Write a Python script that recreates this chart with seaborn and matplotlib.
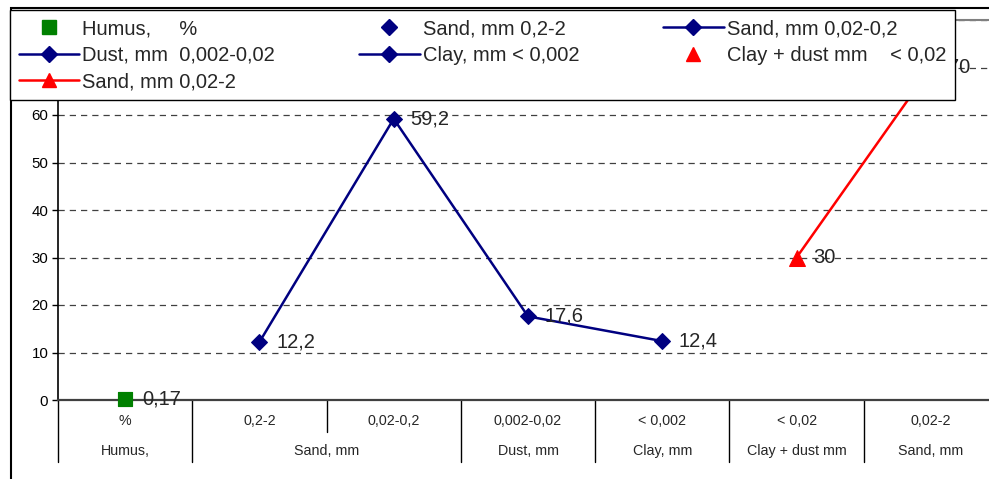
import matplotlib
matplotlib.use("Agg")
import matplotlib.pyplot as plt
import matplotlib.transforms as mtransforms
from matplotlib.lines import Line2D
from matplotlib.patches import Rectangle
import seaborn as sns
import numpy as np

# categories (inner level) and their group (outer level)
categories = ["%", "0,2-2", "0,02-0,2", "0,002-0,02", "< 0,002", "< 0,02", "0,02-2"]
groups = ["Humus,", "Sand, mm", "Sand, mm", "Dust, mm", "Clay, mm", "Clay + dust mm", "Sand, mm"]
values = [0.17, 12.2, 59.2, 17.6, 12.4, 30, 70]

# which categories belong to which drawn series
humus_idx = [0]
fraction_idx = [1, 2, 3, 4]
combined_idx = [5, 6]

legend_labels = [
    "Humus,     %", "Sand, mm 0,2-2", "Sand, mm 0,02-0,2",
    "Dust, mm  0,002-0,02", "Clay, mm < 0,002", "Clay + dust mm    < 0,02",
    "Sand, mm 0,02-2",
]

NAVY = "#000080"
GREEN = "#008000"
RED = "#FF0000"

sns.set_style("white")
plt.rcParams["font.family"] = ["Liberation Sans", "DejaVu Sans"]

W, H = 989, 479
fig = plt.figure(figsize=(W / 100, H / 100), dpi=100)
ax = fig.add_axes([58 / W, 1 - 400 / H, 940 / W, 380 / H])

x = np.arange(len(categories))
vals = np.array(values)

sns.lineplot(x=x[fraction_idx], y=vals[fraction_idx], color=NAVY, lw=1.8,
             marker="D", markersize=8.5, markeredgecolor=NAVY, sort=False, ax=ax)
sns.lineplot(x=x[combined_idx], y=vals[combined_idx], color=RED, lw=1.8,
             marker="^", markersize=11, markeredgecolor=RED, sort=False, ax=ax)
sns.scatterplot(x=x[humus_idx], y=vals[humus_idx], color=GREEN, marker="s",
                s=110, edgecolor=GREEN, ax=ax, zorder=5, clip_on=False)

# data labels
for xi, v in zip(x, values):
    txt = f"{v:g}".replace(".", ",")
    ax.annotate(txt, (xi, v), xytext=(12, 0), textcoords="offset points",
                ha="left", va="center", fontsize=14.5, annotation_clip=False)

ax.set_xlim(-0.5, len(categories) - 0.5)
ax.set_ylim(0, 80)
ax.set_yticks(range(0, 81, 10))
ax.set_xticks([])
ax.set_axisbelow(True)
ax.yaxis.grid(True, linestyle=(0, (5, 4)), color="#404040", lw=0.9)
ax.tick_params(axis="y", direction="out", length=4, width=1, labelsize=10.8,
               pad=3, left=True, colors="black")

ax.spines["top"].set_color("#808080")
ax.spines["top"].set_linewidth(1.5)
ax.spines["left"].set_color("black")
ax.spines["left"].set_linewidth(1.2)
ax.spines["bottom"].set_color("#404040")
ax.spines["bottom"].set_linewidth(1.6)
ax.spines["right"].set_visible(False)

# two-level category axis
trans = mtransforms.blended_transform_factory(ax.transData, ax.transAxes)
short = 32 / 380
long = 62 / 380
for i in range(len(categories) + 1):
    b = i - 0.5
    if i == 0 or i == len(categories) or groups[i] != groups[i - 1]:
        d = long
    else:
        d = short
    ax.add_line(Line2D([b, b], [0, -d], transform=trans, color="black",
                       lw=1.0, clip_on=False))

for xi, c in zip(x, categories):
    ax.text(xi, -21 / 380, c, transform=trans, ha="center", va="center",
            fontsize=10.3)

start = 0
for i in range(1, len(groups) + 1):
    if i == len(groups) or groups[i] != groups[start]:
        ax.text((start + i - 1) / 2, -51 / 380, groups[start], transform=trans,
                ha="center", va="center", fontsize=10.3)
        start = i

# chart area border
fig.add_artist(Rectangle((11 / W, -0.1), 1.2, (1 - 8 / H) + 0.1,
                         transform=fig.transFigure, fill=False,
                         ec="black", lw=1.5))

# legend, row-major order as in the original
h_humus = Line2D([], [], ls="none", marker="s", color=GREEN, markersize=10)
h_sand1 = Line2D([], [], ls="none", marker="D", color=NAVY, markersize=8)
h_navy = Line2D([], [], ls="-", lw=1.8, marker="D", color=NAVY, markersize=8)
h_cd = Line2D([], [], ls="none", marker="^", color=RED, markersize=10)
h_red = Line2D([], [], ls="-", lw=1.8, marker="^", color=RED, markersize=10)
handles = [h_humus, h_sand1, h_navy, h_navy, h_navy, h_cd, h_red]
order = [0, 3, 6, 1, 4, 2, 5]
leg = fig.legend([handles[i] for i in order], [legend_labels[i] for i in order],
                 loc="upper left",
                 bbox_to_anchor=(10 / W, 1 - 95 / H, 945 / W, 85 / H),
                 bbox_transform=fig.transFigure, mode="expand", ncol=3,
                 borderaxespad=0, frameon=True, fancybox=False,
                 edgecolor="black", framealpha=1, fontsize=14.5,
                 handlelength=3.0, handletextpad=0.15, labelspacing=0.38,
                 borderpad=0.45, numpoints=1)
leg.get_frame().set_linewidth(1.0)

fig.savefig("out.png", dpi=100)
